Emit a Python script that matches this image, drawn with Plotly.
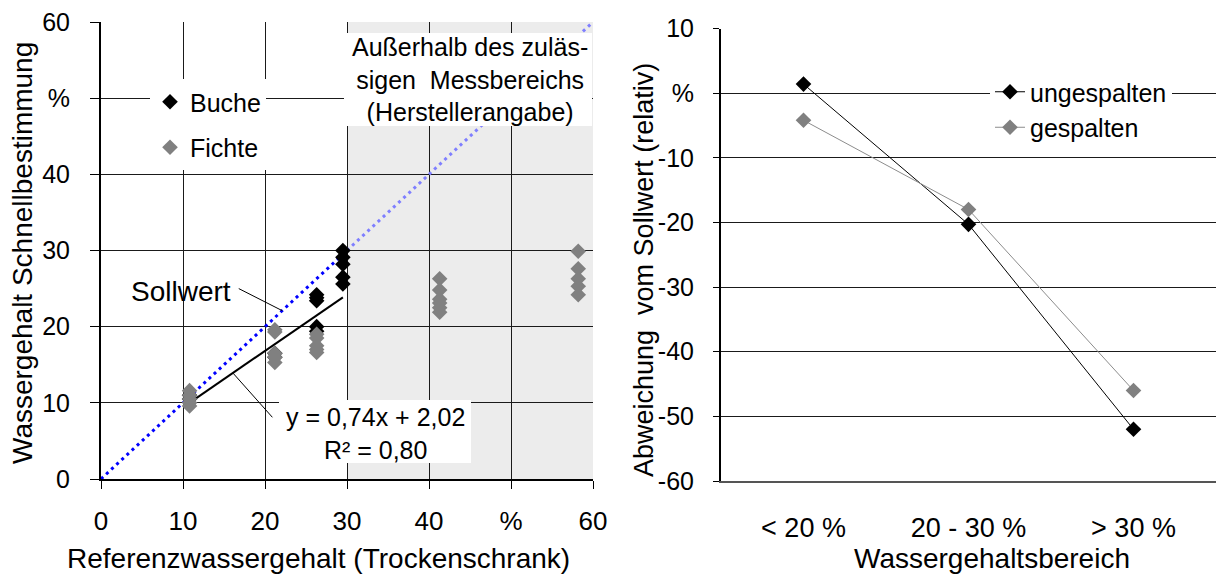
import plotly.graph_objects as go

# ---------------- data (left chart) ----------------
buche_x = [10.8, 10.8, 21.2, 21.2, 26.3, 26.3, 26.3, 26.3, 26.3, 29.5, 29.5, 29.5, 29.5, 29.5]
buche_y = [10.5, 11.0, 16.0, 16.5, 24.2, 23.8, 23.4, 20.0, 19.4, 30.0, 29.1, 28.2, 26.5, 25.6]

fichte_x = [10.8, 10.8, 10.8, 10.8, 10.8,
            21.2, 21.2, 21.2, 21.2, 21.2,
            26.3, 26.3, 26.3, 26.3, 26.3,
            41.3, 41.3, 41.3, 41.3, 41.3, 41.3,
            58.2, 58.2, 58.2, 58.2, 58.2]
fichte_y = [11.6, 11.0, 10.5, 10.0, 9.6,
            19.6, 19.3, 16.5, 16.0, 15.3,
            19.0, 18.5, 17.5, 17.0, 16.6,
            26.3, 24.8, 23.6, 23.1, 22.5, 21.9,
            29.9, 27.6, 26.3, 25.3, 24.2]

sollwert_x = [0, 30, 60]          # target line y = x
trend_x = [10.7, 29.5]            # range of the regression line
trend_slope = 0.74
trend_intercept = 2.02
trend_r2 = 0.80
out_of_range = [30, 60]           # outside permitted measuring range (x)

left_ticks = [0, 10, 20, 30, 40, 50, 60]
left_ticktext = ["0", "10", "20", "30", "40", "%", "60"]

# ---------------- data (right chart) ----------------
categories = ["&lt; 20 %", "20 - 30 %", "&gt; 30 %"]
ungespalten = [1.4, -20.3, -52.0]
gespalten = [-4.2, -18.0, -46.0]
right_ticks = [-60, -50, -40, -30, -20, -10, 0, 10]
right_ticktext = ["-60", "-50", "-40", "-30", "-20", "-10", "%", "10"]

FONT = "Liberation Sans, Arial, sans-serif"
W, H = 1216, 576
NB = "\u00a0"

def px_x(p):
    return p / W

def px_y(p):
    return 1 - p / H

fig = go.Figure()

# target line (Sollwert), inside and outside measuring range
fig.add_trace(go.Scatter(x=sollwert_x[:2], y=sollwert_x[:2], mode="lines",
                         line=dict(color="#0000ff", width=3, dash="3px,4px"),
                         showlegend=False, hoverinfo="skip", xaxis="x", yaxis="y"))
fig.add_trace(go.Scatter(x=sollwert_x[1:], y=sollwert_x[1:], mode="lines",
                         line=dict(color="#7f7fff", width=3, dash="3px,4px"),
                         showlegend=False, hoverinfo="skip", xaxis="x", yaxis="y"))
# regression line
trend_y = [trend_slope * v + trend_intercept for v in trend_x]
fig.add_trace(go.Scatter(x=trend_x, y=trend_y, mode="lines",
                         line=dict(color="black", width=2),
                         showlegend=False, hoverinfo="skip", xaxis="x", yaxis="y"))

fig.add_trace(go.Scatter(x=buche_x, y=buche_y, mode="markers", name="Buche",
                         marker=dict(symbol="diamond", size=12, color="black"),
                         legendgroup="b", legend="legend", xaxis="x", yaxis="y"))
fig.add_trace(go.Scatter(x=fichte_x, y=fichte_y, mode="markers", name="Fichte",
                         marker=dict(symbol="diamond", size=12, color="#808080"),
                         legendgroup="f", legend="legend", xaxis="x", yaxis="y"))

# right chart
cat_pos = list(range(len(categories)))
fig.add_trace(go.Scatter(x=cat_pos, y=ungespalten, mode="lines+markers", name="ungespalten",
                         line=dict(color="black", width=1),
                         marker=dict(symbol="diamond", size=12, color="black"),
                         legendgroup="u", legend="legend2", xaxis="x2", yaxis="y2"))
fig.add_trace(go.Scatter(x=cat_pos, y=gespalten, mode="lines+markers", name="gespalten",
                         line=dict(color="#8c8c8c", width=1),
                         marker=dict(symbol="diamond", size=12, color="#808080"),
                         legendgroup="g", legend="legend2", xaxis="x2", yaxis="y2"))

def tf(size):
    return dict(family=FONT, size=size, color="black")

fig.update_layout(
    width=W, height=H, autosize=False,
    margin=dict(l=0, r=0, t=0, b=0),
    paper_bgcolor="white", plot_bgcolor="white",
    font=dict(family=FONT, size=24, color="black"),
    xaxis=dict(domain=[px_x(101), px_x(593)], range=[0, 60], tickvals=left_ticks,
               ticktext=left_ticktext, showgrid=True, gridcolor="#1a1a1a", gridwidth=1,
               showline=True, linecolor="black", linewidth=2, zeroline=False,
               ticks="outside", ticklen=8, tickcolor="black", tickwidth=1, anchor="y",
               ticklabelstandoff=10, tickfont=tf(26), automargin=False, fixedrange=True),
    yaxis=dict(domain=[px_y(479), px_y(22)], range=[0, 60], tickvals=left_ticks,
               ticktext=left_ticktext, showgrid=True, gridcolor="#1a1a1a", gridwidth=1,
               showline=True, linecolor="black", linewidth=2, zeroline=False,
               ticks="outside", ticklen=9, tickcolor="black", tickwidth=1, anchor="x",
               ticklabelstandoff=15, tickfont=tf(25), automargin=False, fixedrange=True),
    xaxis2=dict(domain=[px_x(721), 1.0], range=[-0.5, 2.5], tickvals=cat_pos,
                ticktext=categories, showgrid=False, showline=True, linecolor="#555555",
                linewidth=2, zeroline=False, ticks="", ticklabelstandoff=22, anchor="y2",
                tickfont=tf(27), automargin=False, fixedrange=True),
    yaxis2=dict(domain=[px_y(481), px_y(28.5)], range=[-60, 10], tickvals=right_ticks,
                ticktext=right_ticktext, showgrid=True, gridcolor="#1a1a1a", gridwidth=1,
                showline=True, linecolor="black", linewidth=2, zeroline=False,
                ticks="outside", ticklen=6, tickcolor="black", tickwidth=1, anchor="x2",
                ticklabelstandoff=14, tickfont=tf(25), automargin=False, fixedrange=True),
    legend=dict(x=px_x(150), y=px_y(79), xanchor="left", yanchor="top",
                bgcolor="white", borderwidth=0, font=tf(25),
                traceorder="grouped", tracegroupgap=10, itemclick=False),
    legend2=dict(x=px_x(990), y=px_y(69), xanchor="left", yanchor="top",
                 bgcolor="white", borderwidth=0, font=tf(25),
                 traceorder="grouped", tracegroupgap=0, itemclick=False),
    showlegend=True,
)

# shaded area outside measuring range
fig.add_shape(type="rect", xref="x", yref="y", x0=out_of_range[0], x1=out_of_range[1],
              y0=0, y1=60, fillcolor="#ececec", line=dict(width=0), layer="below")

# white boxes for annotations
fig.add_shape(type="rect", xref="paper", yref="paper", x0=px_x(344), x1=px_x(592),
              y0=px_y(126), y1=px_y(33), fillcolor="white", line=dict(width=0), layer="above")
fig.add_shape(type="rect", xref="paper", yref="paper", x0=px_x(279), x1=px_x(471),
              y0=px_y(463), y1=px_y(400), fillcolor="white", line=dict(width=0), layer="above")

# leader lines
fig.add_shape(type="line", xref="x", yref="y", x0=16.8, y0=25.0, x1=22.1, y1=22.1,
              line=dict(color="black", width=1), layer="above")
fig.add_shape(type="line", xref="x", yref="y", x0=20.9, y0=8.1, x1=16.1, y1=13.9,
              line=dict(color="black", width=1), layer="above")

def fmt(v):
    return f"{v:.2f}".replace(".", ",")

annos = [
    dict(x=px_x(470), y=px_y(80), size=25,
         text=f"Außerhalb des zuläs-<br>sigen {NB}Messbereichs<br>(Herstellerangabe)"),
    dict(x=px_x(181), y=px_y(291), size=28, text="Sollwert"),
    dict(x=px_x(375), y=px_y(433), size=25,
         text=f"y = {fmt(trend_slope)}x + {fmt(trend_intercept)}<br>R² = {fmt(trend_r2)}"),
    dict(x=px_x(318), y=px_y(558), size=28, text="Referenzwassergehalt (Trockenschrank)"),
    dict(x=px_x(992), y=px_y(558), size=28, text="Wassergehaltsbereich"),
    dict(x=px_x(22), y=px_y(253), size=28, text="Wassergehalt Schnellbestimmung", textangle=-90),
    dict(x=px_x(644), y=px_y(270), size=27, text=f"Abweichung {NB}vom Sollwert (relativ)", textangle=-90),
]
for a in annos:
    size = a.pop("size")
    fig.add_annotation(xref="paper", yref="paper", showarrow=False, xanchor="center",
                       yanchor="middle", align="center", font=tf(size), **a)

fig.write_html("out.html", config={"displayModeBar": False},
               post_script="document.body.style.margin='0px';document.body.style.overflow='hidden';")
